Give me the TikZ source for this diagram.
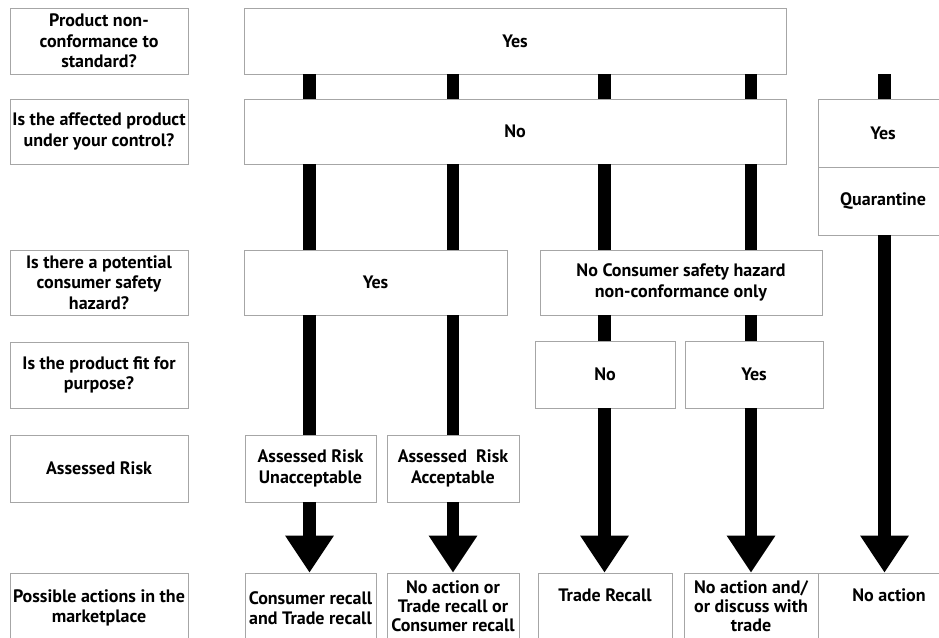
\documentclass[tikz,border=0pt]{standalone}
\usepackage{fontspec}
\setmainfont{PT Sans}
\usetikzlibrary{arrows.meta}
\begin{document}
\begin{tikzpicture}[x=1pt,y=-1pt,
  box/.style={draw=gray!70,line width=0.6pt,fill=white,align=center,
    font=\fontsize{18}{20.5}\selectfont\bfseries,inner sep=0pt},
  tight/.style={font=\fontsize{18}{19}\selectfont\bfseries},
  bar/.style={line width=12.5pt,black},
  bigarrow/.style={line width=12.5pt,black,-{Triangle[width=46pt,length=37pt]}}]
\useasboundingbox (0,0) rectangle (939,637);
% column positions
\coordinate (c1) at (309.5,0);
\coordinate (c2) at (453,0);
\coordinate (c3) at (604.5,0);
\coordinate (c4) at (751,0);
\coordinate (c5) at (884.5,0);
% left question column
\node[box,minimum width=178pt,minimum height=66pt] (L1) at (99,41) {Product non-\\conformance to\\standard?};
\node[box,minimum width=178pt,minimum height=65pt] (L2) at (99,131.5) {Is the affected product\\under your control?};
\node[box,minimum width=178pt,minimum height=65pt] (L3) at (99,282.5) {Is there a potential\\consumer safety\\hazard?};
\node[box,minimum width=178pt,minimum height=66pt] (L4) at (99,375) {Is the product fit for\\purpose?};
\node[box,minimum width=178pt,minimum height=67pt] (L5) at (99,468.5) {Assessed Risk};
\node[box,minimum width=178pt,minimum height=70pt] (L6) at (99,608) {Possible actions in the\\marketplace};
% answers
\node[box,minimum width=542pt,minimum height=66pt] (Y1) at (515,41) {Yes};
\node[box,minimum width=542pt,minimum height=65pt] (N2) at (515,131.5) {No};
\node[box,minimum width=130pt,minimum height=68pt] (Y2) at (883,133) {Yes};
\node[box,minimum width=130pt,minimum height=68pt] (Q) at (883,201) {Quarantine};
\node[box,minimum width=263pt,minimum height=65pt] (Y3) at (375.5,282.5) {Yes};
\node[box,minimum width=282pt,minimum height=65pt] (N3) at (681,282.5) {No Consumer safety hazard\\non-conformance only};
\node[box,minimum width=140pt,minimum height=67pt] (N4) at (605,374.5) {No};
\node[box,minimum width=138pt,minimum height=67pt] (Y4) at (754,374.5) {Yes};
\node[box,minimum width=131pt,minimum height=67pt] (U5) at (310.5,468.5) {Assessed Risk\\Unacceptable};
\node[box,minimum width=132pt,minimum height=67pt] (A5) at (453,468.5) {Assessed\ \ Risk\\Acceptable};
% actions
\node[box,minimum width=131pt,minimum height=70pt] (R1) at (310.5,608) {Consumer recall\\and Trade recall};
\node[box,tight,minimum width=132pt,minimum height=66pt] (R2) at (453,606) {No action or\\Trade recall or\\Consumer recall};
\node[box,minimum width=134pt,minimum height=70pt] (R3) at (605,608) {Trade Recall\\\strut};
\node[box,tight,minimum width=134pt,minimum height=66pt] (R4) at (751,606) {No action and/\\or discuss with\\trade};
\node[box,minimum width=142pt,minimum height=70pt] (R5) at (889,608) {No action\\\strut};
% column 1
\draw[bar] (Y1.south -| c1) -- (N2.north -| c1);
\draw[bar] (N2.south -| c1) -- (Y3.north -| c1);
\draw[bar] (Y3.south -| c1) -- (U5.north -| c1);
\draw[bigarrow] (U5.south -| c1) -- (R1.north -| c1);
% column 2
\draw[bar] (Y1.south -| c2) -- (N2.north -| c2);
\draw[bar] (N2.south -| c2) -- (Y3.north -| c2);
\draw[bar] (Y3.south -| c2) -- (A5.north -| c2);
\draw[bigarrow] (A5.south -| c2) -- (R2.north -| c2);
% column 3
\draw[bar] (Y1.south -| c3) -- (N2.north -| c3);
\draw[bar] (N2.south -| c3) -- (N3.north -| c3);
\draw[bar] (N3.south -| c3) -- (N4.north -| c3);
\draw[bigarrow] (N4.south -| c3) -- (R3.north -| c3);
% column 4
\draw[bar] (Y1.south -| c4) -- (N2.north -| c4);
\draw[bar] (N2.south -| c4) -- (N3.north -| c4);
\draw[bar] (N3.south -| c4) -- (Y4.north -| c4);
\draw[bigarrow] (Y4.south -| c4) -- (R4.north -| c4);
% column 5
\draw[bar] (Y1.south -| c5) -- (Y2.north -| c5);
\draw[bigarrow] (Q.south -| c5) -- (R5.north -| c5);
\end{tikzpicture}
\end{document}
